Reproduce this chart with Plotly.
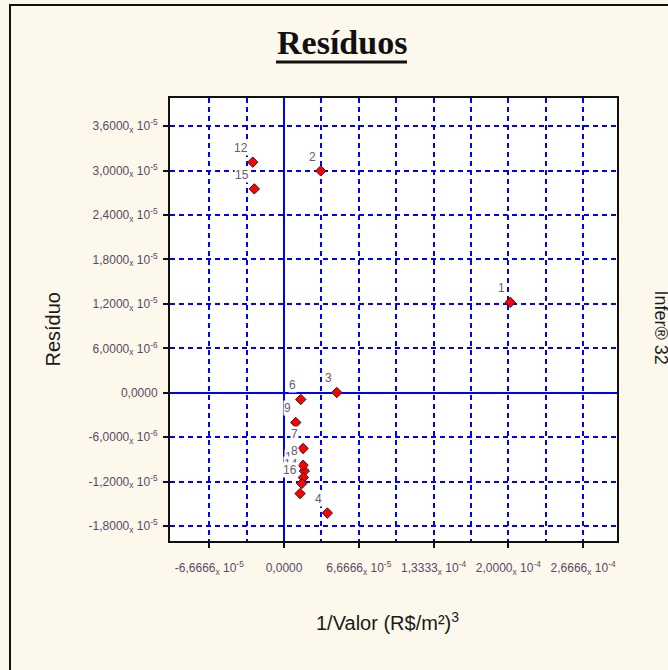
import plotly.graph_objects as go

# ---- data ----
point_ids = ["5", "13", "1", "2", "3", "4", "6", "9", "7", "8", "14", "16", "12", "15"]
x_vals = [1.428e-5, 1.812e-5, 2.017e-4, 3.275e-5, 4.703e-5, 3.864e-5, 1.490e-5, 1.044e-5,
          1.696e-5, 1.696e-5, 1.722e-5, 1.580e-5, -2.793e-5, -2.651e-5]
y_vals = [-1.360e-5, -1.054e-5, 1.222e-5, 2.996e-5, 0.05e-6, -1.622e-5, -0.89e-6, -4.0e-6,
          -7.51e-6, -9.77e-6, -1.143e-5, -1.224e-5, 3.114e-5, 2.753e-5]
visible_labels = ["13", "1", "2", "3", "4", "6", "9", "7", "8", "14", "16", "12", "15"]

x_tickvals = [-6.6666e-5, 0.0, 6.6666e-5, 1.3333e-4, 2.0e-4, 2.6666e-4]
x_ticktext = ["-6,6666<sub>x</sub> 10<sup>-5</sup>", "0,0000",
              "6,6666<sub>x</sub> 10<sup>-5</sup>", "1,3333<sub>x</sub> 10<sup>-4</sup>",
              "2,0000<sub>x</sub> 10<sup>-4</sup>", "2,6666<sub>x</sub> 10<sup>-4</sup>"]
x_minor_gridvals = [-3.3333e-5, 3.3333e-5, 1.0e-4, 1.6666e-4, 2.3333e-4]
y_tickvals = [3.6e-5, 3.0e-5, 2.4e-5, 1.8e-5, 1.2e-5, 6.0e-6, 0.0, -6.0e-6, -1.2e-5, -1.8e-5]
y_ticktext = ["3,6000<sub>x</sub> 10<sup>-5</sup>", "3,0000<sub>x</sub> 10<sup>-5</sup>",
              "2,4000<sub>x</sub> 10<sup>-5</sup>", "1,8000<sub>x</sub> 10<sup>-5</sup>",
              "1,2000<sub>x</sub> 10<sup>-5</sup>", "6,0000<sub>x</sub> 10<sup>-6</sup>",
              "0,0000", "-6,0000<sub>x</sub> 10<sup>-6</sup>",
              "-1,2000<sub>x</sub> 10<sup>-5</sup>", "-1,8000<sub>x</sub> 10<sup>-5</sup>"]

x_range = [-1.017e-4, 2.969e-4]
y_range = [-2.0e-5, 3.98e-5]

CREAM = "#FDF8EC"
BLUE = "#0000FF"
TICKCOL = "#5a4a66"
FONT = "Liberation Sans, Arial, sans-serif"

fig = go.Figure()
fig.add_trace(go.Scatter(
    x=x_vals, y=y_vals, mode="markers",
    marker=dict(symbol="diamond", size=8, color="#FF0000",
                line=dict(color="#202020", width=1)),
    hoverinfo="skip", showlegend=False))

annotations = []
for pid, xv, yv in zip(point_ids, x_vals, y_vals):
    if pid not in visible_labels:
        continue
    annotations.append(dict(
        x=xv, y=yv, xref="x", yref="y", text=pid, showarrow=False,
        xanchor="right", yanchor="middle", xshift=-4, yshift=14,
        font=dict(family=FONT, size=12, color="#6a5a70"),
        bgcolor="white", borderpad=0))

# titles and extra text
annotations.append(dict(
    x=0, y=0.5, xref="paper", yref="paper", text="Resíduo", textangle=-90,
    showarrow=False, xanchor="center", yanchor="middle", xshift=-118, yshift=-10,
    font=dict(family=FONT, size=20, color="#1a1a1a")))
annotations.append(dict(
    x=0.5, y=0, xref="paper", yref="paper",
    text="1/Valor (R$/m²)<sup>3</sup>",
    showarrow=False, xanchor="center", yanchor="middle", xshift=-6, yshift=-80,
    font=dict(family=FONT, size=20, color="#1a1a1a")))
annotations.append(dict(
    x=1, y=0.5, xref="paper", yref="paper", text="Infer® 32", textangle=90,
    showarrow=False, xanchor="center", yanchor="middle", xshift=44, yshift=-8,
    font=dict(family=FONT, size=18, color="#1a1a1a")))
annotations.append(dict(
    x=0.5, y=1, xref="paper", yref="paper", text="<b>Resíduos</b>",
    showarrow=False, xanchor="center", yanchor="middle", xshift=-52, yshift=56,
    font=dict(family="Liberation Serif, Times New Roman, serif", size=34, color="#111111")))

shapes = [
    # title underline
    dict(type="line", xref="paper", yref="paper",
         x0=(276 - 170) / 447, x1=(407 - 170) / 447,
         y0=(541 - 62) / 443, y1=(541 - 62) / 443,
         line=dict(color="#111111", width=3)),
    # outer frame
    dict(type="rect", xref="paper", yref="paper",
         x0=(10 - 170) / 447, x1=1.3, y0=-0.4, y1=(541 - 5) / 443,
         line=dict(color="#111111", width=2), layer="below"),
]

axis_common = dict(
    showline=True, mirror=True, linecolor="#111111", linewidth=2,
    ticks="outside", ticklen=5, tickwidth=2, tickcolor="#111111",
    tickfont=dict(family=FONT, size=12, color=TICKCOL),
    showgrid=True, gridcolor=BLUE, gridwidth=1.5, griddash="5px,4px",
    zeroline=True, zerolinecolor=BLUE, zerolinewidth=1.5,
    fixedrange=True,
)

fig.update_layout(
    width=668, height=670,
    margin=dict(l=170, r=51, t=98, b=129),
    paper_bgcolor=CREAM, plot_bgcolor="white",
    xaxis=dict(range=x_range, tickmode="array", tickvals=x_tickvals, ticktext=x_ticktext,
               ticklabelstandoff=10,
               minor=dict(tickmode="array", tickvals=x_minor_gridvals, showgrid=True,
                          gridcolor=BLUE, gridwidth=1.5, griddash="5px,4px", ticks=""),
               **axis_common),
    yaxis=dict(range=y_range, tickmode="array", tickvals=y_tickvals, ticktext=y_ticktext,
               ticklabelstandoff=3, **axis_common),
    annotations=annotations, shapes=shapes,
    showlegend=False,
)

fig.write_html("out.html", config={"displayModeBar": False})
